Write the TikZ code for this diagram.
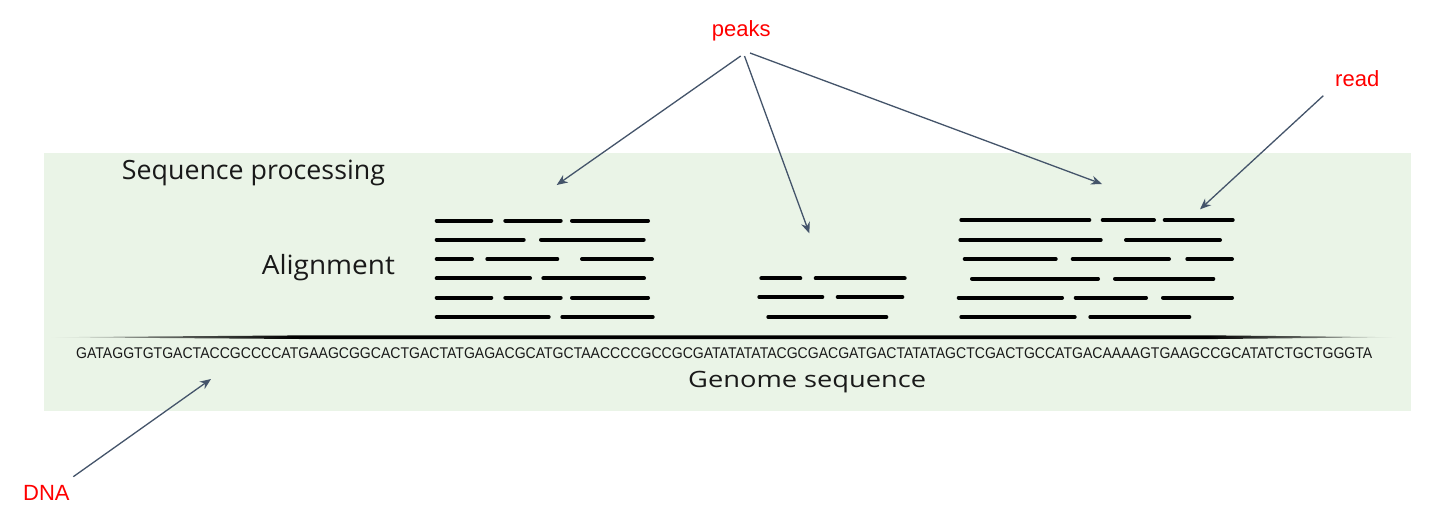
\documentclass[tikz,border=0pt]{standalone}
\usepackage{fontspec}
\setmainfont{Open Sans}
\newfontfamily\redfont{Liberation Sans}
\newfontfamily\seqfont{Liberation Sans}
\usetikzlibrary{arrows.meta}
\definecolor{bggreen}{HTML}{EAF4E7}
\definecolor{arrowgray}{HTML}{44546A}
\definecolor{lblred}{HTML}{FF0000}
\pgfdeclarehorizontalshading{genomefade}{100bp}{color(0bp)=(bggreen); color(25bp)=(bggreen); color(29bp)=(black!55!bggreen); color(34bp)=(black); color(68bp)=(black); color(72bp)=(black!55!bggreen); color(75bp)=(bggreen); color(100bp)=(bggreen)}
\tikzset{
  readline/.style={line width=4pt, line cap=round, black},
  pointer/.style={draw=arrowgray, line width=1.3pt, -{Stealth[length=11pt,width=9pt]}},
  redlbl/.style={inner sep=0pt, anchor=base west, text=lblred, font=\redfont\fontsize{22}{26}\selectfont},
  blacklbl/.style={inner sep=0pt, anchor=base west, text=black!90},
}
\begin{document}
\begin{tikzpicture}[x=1pt,y=-1pt]
\useasboundingbox (0,0) rectangle (1434,515);
\fill[white] (0,0) rectangle (1434,515);
% background panel
\fill[bggreen] (44,153) rectangle (1411,411);
% genome line with faded, tapered ends
\shade[shading=genomefade] (50,337.2) -- (300,335.4) -- (1217,335.4) -- (1396,337.2) -- (1217,339) -- (300,339) -- cycle;
% labels
\node[blacklbl] (seqproc) at (121.7,179.3) {\resizebox{263pt}{\height}{\fontsize{26.5}{30}\selectfont Sequence processing}};
\node[blacklbl] (align) at (261.7,274.3) {\resizebox{133pt}{\height}{\fontsize{26.5}{30}\selectfont Alignment}};
\node[blacklbl] (genome) at (688,387.7) {\resizebox{238pt}{\height}{\fontsize{22.5}{26}\selectfont Genome sequence}};
\node[blacklbl] (dnaseq) at (76,358.5) {\resizebox{1296pt}{\height}{\seqfont\fontsize{15.5}{18}\selectfont GATAGGTGTGACTACCGCCCCATGAAGCGGCACTGACTATGAGACGCATGCTAACCCCGCCGCGATATATATACGCGACGATGACTATATAGCTCGACTGCCATGACAAAAGTGAAGCCGCATATCTGCTGGGTA}};
\node[redlbl] (peaks) at (711.7,36.5) {peaks};
\node[redlbl] (read) at (1335,86.5) {read};
\node[redlbl] (dna) at (23,500.5) {DNA};
% reads: left cluster
\draw[readline] (436.7,220.7) -- (491.3,220.7) (505.3,220.7) -- (560.7,220.7) (572,220.7) -- (648,220.7);
\draw[readline] (436.7,239.7) -- (523.7,239.7) (541,239.7) -- (643.7,239.7);
\draw[readline] (436.7,259) -- (472,259) (487.3,259) -- (557.3,259) (582,259) -- (652,259);
\draw[readline] (436.7,278.3) -- (530,278.3) (543.3,278.3) -- (644,278.3);
\draw[readline] (436.7,297.7) -- (491.3,297.7) (505.3,297.7) -- (560.7,297.7) (572,297.7) -- (648,297.7);
\draw[readline] (436.7,317) -- (548.7,317) (562.3,317) -- (652.7,317);
% reads: middle cluster
\draw[readline] (761.3,278.3) -- (800.3,278.3) (815.7,278.3) -- (904.7,278.3);
\draw[readline] (759.3,297) -- (822.3,297) (837.7,297) -- (902.3,297);
\draw[readline] (768.3,317) -- (886.3,317);
% reads: right cluster
\draw[readline] (961.3,220) -- (1089.3,220) (1102.7,220) -- (1154,220) (1164.7,220) -- (1232.7,220);
\draw[readline] (960.3,240) -- (1100.7,240) (1126,240) -- (1220,240);
\draw[readline] (964.7,259) -- (1055.7,259) (1072.7,259) -- (1169,259) (1187.3,259) -- (1232,259);
\draw[readline] (972,278.7) -- (1098,278.7) (1115,278.7) -- (1213.3,278.7);
\draw[readline] (958.7,297.7) -- (1062,297.7) (1075.7,297.7) -- (1146,297.7) (1163,297.7) -- (1232,297.7);
\draw[readline] (961.3,317) -- (1074.7,317) (1090.3,317) -- (1189.3,317);
% pointer coordinates
\coordinate (pk1) at (740.7,56);
\coordinate (pk2) at (744.5,56);
\coordinate (pk3) at (750,53);
\coordinate (peakL) at (556.7,185);
\coordinate (peakM) at (809.3,233.3);
\coordinate (peakR) at (1102,184);
\coordinate (rd0) at (1323.3,95.7);
\coordinate (readtip) at (1200,209.3);
\coordinate (dn0) at (73.3,476.7);
\coordinate (dnatip) at (211,379);
\draw[pointer] (pk1) -- (peakL);
\draw[pointer] (pk2) -- (peakM);
\draw[pointer] (pk3) -- (peakR);
\draw[pointer] (rd0) -- (readtip);
\draw[pointer] (dn0) -- (dnatip);
\end{tikzpicture}
\end{document}
